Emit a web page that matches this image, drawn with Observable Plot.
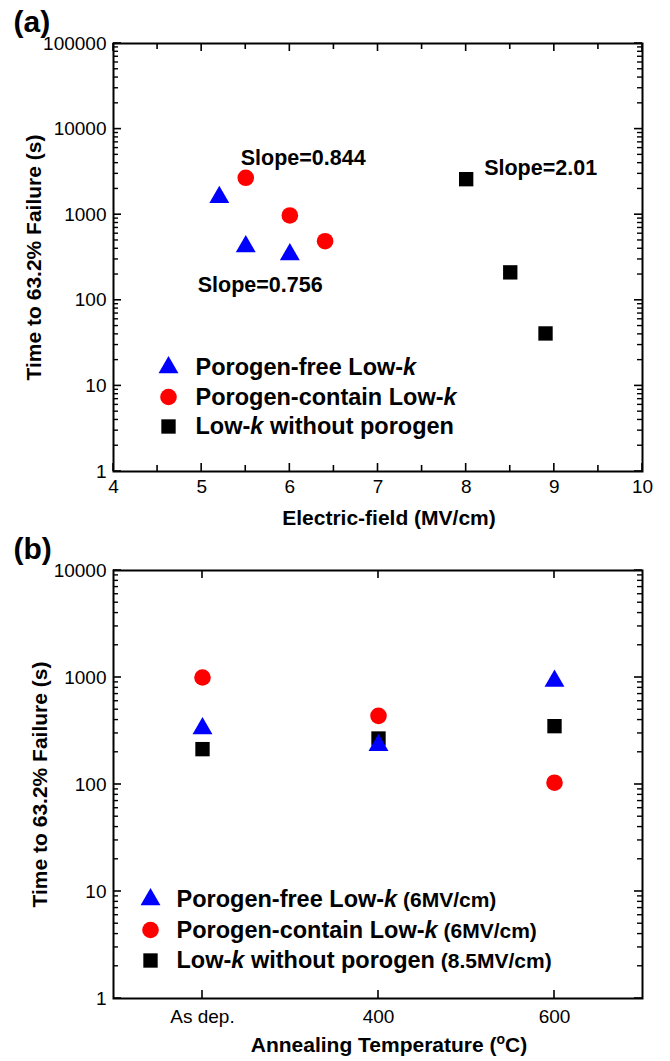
<!DOCTYPE html>
<html><head><meta charset="utf-8">
<script src="https://cdn.jsdelivr.net/npm/d3@7"></script>
<script src="https://cdn.jsdelivr.net/npm/@observablehq/plot@0.6"></script>
<style>
html,body{margin:0;padding:0;background:#fff;}
#chart{width:670px;height:1061px;position:relative;overflow:hidden;}
#chart svg{display:block;}
</style></head><body><div id="chart"></div>
<script>
// ---------- Panel (a): time to 63.2% failure vs electric field ----------
const fieldFree = [5.2, 5.5, 6.0];
const timeFree = [1600, 425, 343];
const fieldContain = [5.5, 6.0, 6.4];
const timeContain = [2700, 980, 490];
const fieldWithout = [8.0, 8.5, 8.9];
const timeWithout = [2600, 212, 41];
const slopeLabels = ["Slope=0.756", "Slope=0.844", "Slope=2.01"];

// ---------- Panel (b): time to failure vs annealing temperature ----------
const annealTemps = ["As dep.", "400", "600"];
const annealFree = [334, 233, 929];
const annealContain = [1000, 438, 104];
const annealWithout = [214, 269, 351];

// ---------- series / legend ----------
const seriesNames = ["Porogen-free Low-k", "Porogen-contain Low-k", "Low-k without porogen"];
const stressFields = ["(6MV/cm)", "(6MV/cm)", "(8.5MV/cm)"];
const seriesSymbols = ["triangle", "circle", "square"];
const seriesColors = ["#0000ff", "#ff0000", "#000000"];
const seriesRadius = [7.4, 8.3, 8.1];

// ---------- ticks / titles ----------
const xTicksA = [4, 5, 6, 7, 8, 9, 10];
const xMinorA = [4.5, 5.5, 6.5, 7.5, 8.5, 9.5];
const yTicksA = [1, 10, 100, 1000, 10000, 100000];
const yTicksB = [1, 10, 100, 1000, 10000];
const xTitleA = "Electric-field (MV/cm)";
const xTitleB = "Annealing Temperature (oC)";
const yTitle = "Time to 63.2% Failure (s)";

function logMinor(lo, hi) {
  const out = [];
  for (let d = lo; d < hi; d *= 10) for (let m = 2; m <= 9; m++) out.push(d * m);
  return out;
}

const FONT = "'Liberation Sans', Arial, Helvetica, sans-serif";
const baseStyle = {fontFamily: FONT, fontSize: "19px", color: "#000", background: "#fff", overflow: "visible"};
const W = 670, ML = 113, MR = 28;

function boxAxes(xMajor, yMajor, opts) {
  return [
    Plot.axisX(xMajor, {anchor: "bottom", tickSize: 0, tickPadding: opts.xPad, label: null, tickFormat: opts.xFormat}),
    Plot.axisY(yMajor, {anchor: "left", tickSize: 0, tickPadding: 7, label: null, tickFormat: d => String(d)}),
    Plot.frame({stroke: "#000", strokeWidth: 2})
  ];
}

function titles(panel, xTitle, yDx) {
  return [
    Plot.text([panel], {frameAnchor: "top-left", dx: -100, dy: -21.5, textAnchor: "start", lineAnchor: "middle", fontSize: 30, fontWeight: "bold"}),
    Plot.text([xTitle], {frameAnchor: "bottom", dx: 11, dy: 47, textAnchor: "middle", lineAnchor: "middle", fontSize: 21, fontWeight: "bold"}),
    Plot.text([yTitle], {frameAnchor: "left", dx: yDx, rotate: -90, textAnchor: "middle", lineAnchor: "middle", fontSize: 21, fontWeight: "bold"})
  ];
}

function legend(names, symDx, txtDx, dy0, step) {
  const m = [];
  names.forEach((name, i) => {
    m.push(Plot.dot([name], {frameAnchor: "bottom-left", dx: symDx, dy: dy0 + i * step,
      symbol: seriesSymbols[i], fill: seriesColors[i], r: seriesRadius[i]}));
    m.push(Plot.text([name], {frameAnchor: "bottom-left", dx: txtDx, dy: dy0 + i * step,
      textAnchor: "start", lineAnchor: "middle", fontSize: 23.5, fontWeight: "bold"}));
  });
  return m;
}

// one dot mark per series (blue drawn last, on top)
function seriesDots(xsList, ysList) {
  return [2, 1, 0].map(s => Plot.dot(xsList[s].map((x, i) => ({x, y: ysList[s][i]})),
    {x: "x", y: "y", symbol: seriesSymbols[s], fill: seriesColors[s], r: seriesRadius[s]}));
}

// ----- Panel (a)
const slopeAnchors = [
  {x: fieldFree[1], y: timeFree[1], t: slopeLabels[0], dx: -48, dy: 39},
  {x: fieldContain[0], y: timeContain[0], t: slopeLabels[1], dx: -5, dy: -20},
  {x: fieldWithout[0], y: timeWithout[0], t: slopeLabels[2], dx: 18, dy: -11}
];

const plotA = Plot.plot({
  width: W, height: 530,
  marginTop: 43, marginBottom: 59, marginLeft: ML, marginRight: MR,
  x: {domain: [4, 10]},
  y: {type: "log", domain: [1, 100000]},
  style: baseStyle,
  marks: [
    ...boxAxes(xTicksA, yTicksA, {xPad: 8, xFormat: d => String(d)}),
    ...seriesDots([fieldFree, fieldContain, fieldWithout], [timeFree, timeContain, timeWithout]),
    ...slopeAnchors.map(a => Plot.text([a], {x: "x", y: "y", text: "t", dx: a.dx, dy: a.dy,
      textAnchor: "start", lineAnchor: "middle", fontSize: 21.5, fontWeight: "bold"})),
    ...legend(seriesNames, 55, 82, -104, 29.5),
    ...titles("(a)", xTitleA, -79.5)
  ]
});

// ----- Panel (b)
const plotB = Plot.plot({
  width: W, height: 531,
  marginTop: 40, marginBottom: 63, marginLeft: ML, marginRight: MR,
  x: {type: "point", domain: annealTemps, padding: 0.5},
  y: {type: "log", domain: [1, 10000]},
  style: baseStyle,
  marks: [
    ...boxAxes(annealTemps, yTicksB, {xPad: 11, xFormat: d => d}),
    ...seriesDots([annealTemps, annealTemps, annealTemps], [annealFree, annealContain, annealWithout]),
    ...legend(seriesNames.map((n, i) => n + " " + stressFields[i]), 37, 63, -99, 30.5),
    ...titles("(b)", xTitleB, -73.5)
  ]
});

const chart = document.getElementById("chart");
chart.appendChild(plotA);
chart.appendChild(plotB);

const NS = "http://www.w3.org/2000/svg";

// ---------- inward ticks on all four sides, positioned with Plot's own scales ----------
function addTicks(svg, xMajor, xMinor, yMajor, yMinor, top, bottom) {
  const sx = svg.scale("x"), sy = svg.scale("y");
  const left = ML, right = W - MR;
  const g = document.createElementNS(NS, "g");
  g.setAttribute("aria-label", "inner ticks");
  svg.appendChild(g);
  const seg = (x1, y1, x2, y2, w) => {
    const p = document.createElementNS(NS, "path");
    p.setAttribute("d", `M${x1},${y1}L${x2},${y2}`);
    p.setAttribute("stroke", "#000");
    p.setAttribute("stroke-width", w);
    p.setAttribute("fill", "none");
    g.appendChild(p);
  };
  const xt = (vals, len, w) => vals.forEach(v => { const px = sx.apply(v); seg(px, bottom, px, bottom - len, w); seg(px, top, px, top + len, w); });
  const yt = (vals, len, w) => vals.forEach(v => { const py = sy.apply(v); seg(left, py, left + len, py, w); seg(right, py, right - len, py, w); });
  xt(xMajor, 8, 1.6); xt(xMinor, 6, 1.6); yt(yMajor, 8, 1.6); yt(yMinor, 5, 1.4);
}
addTicks(plotA, xTicksA, xMinorA, yTicksA, logMinor(1, 100000), 43, 471);
addTicks(plotB, annealTemps, [], yTicksB, logMinor(1, 10000), 40, 468);

// ---------- rich text: italic k, smaller field, superscript o ----------
function rebuild(t, parts) {
  while (t.firstChild) t.removeChild(t.firstChild);
  for (const p of parts) {
    const ts = document.createElementNS(NS, "tspan");
    ts.textContent = p.text;
    for (const k in (p.attrs || {})) ts.setAttribute(k, p.attrs[k]);
    t.appendChild(ts);
  }
}
chart.querySelectorAll("text").forEach(t => {
  const s = t.textContent;
  const i = s.indexOf("Low-k");
  if (i >= 0) {
    const parts = [{text: s.slice(0, i + 4)}, {text: "k", attrs: {"font-style": "italic"}}];
    const rest = s.slice(i + 5);
    const j = rest.indexOf(" (");
    if (j >= 0) {
      if (j > 0) parts.push({text: rest.slice(0, j)});
      parts.push({text: rest.slice(j), attrs: {"font-size": 21}});
    } else if (rest) parts.push({text: rest});
    rebuild(t, parts);
  } else if (s.includes("(oC)")) {
    const k = s.indexOf("(oC)");
    rebuild(t, [
      {text: s.slice(0, k + 1)},
      {text: "o", attrs: {"font-size": 14, dy: "-8"}},
      {text: "C", attrs: {dy: "8"}},
      {text: ")"}
    ]);
  }
});
</script>
</body></html>
